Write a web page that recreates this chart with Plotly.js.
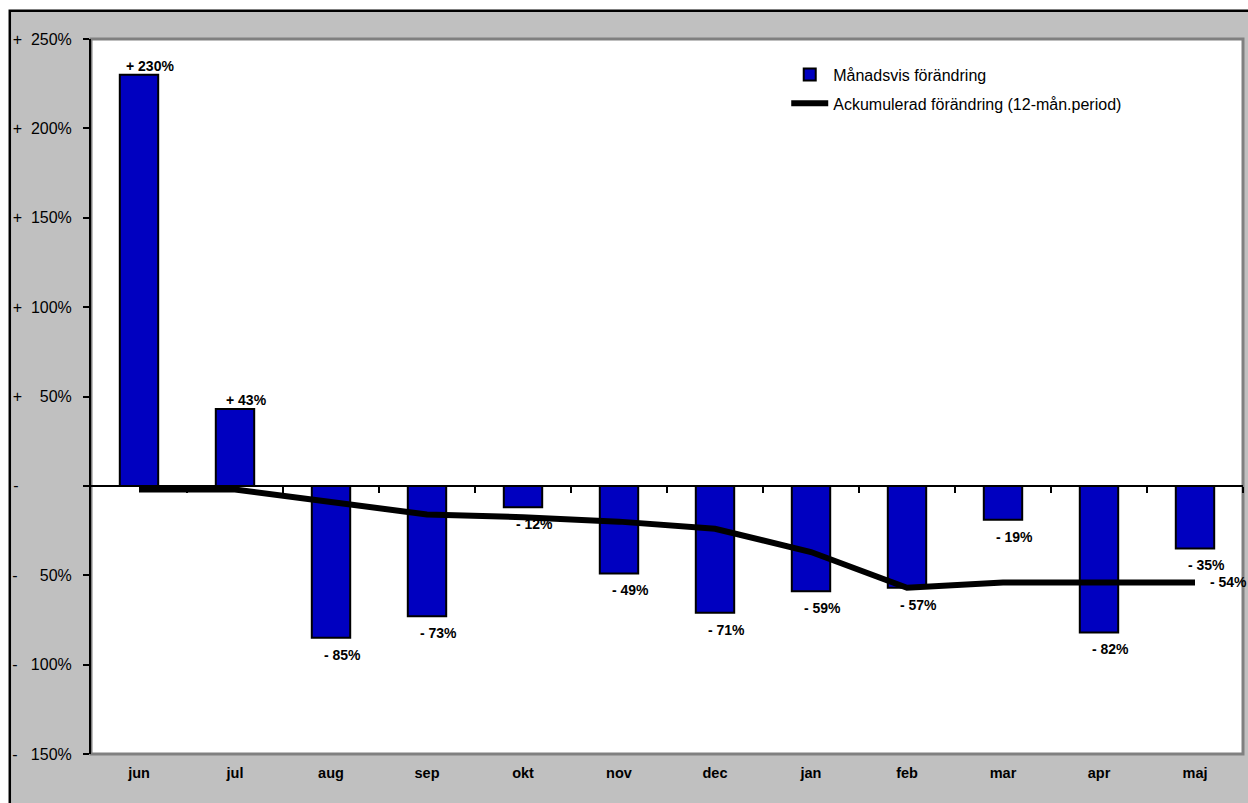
<!DOCTYPE html>
<html>
<head>
<meta charset="utf-8">
<script src="https://cdn.plot.ly/plotly-3.0.1.min.js"></script>
<style>
html,body{margin:0;padding:0;background:#fff;}
#chart{width:1248px;height:803px;}
</style>
</head>
<body>
<div id="chart"></div>
<script>
const months = ['jun','jul','aug','sep','okt','nov','dec','jan','feb','mar','apr','maj'];
const monthlyChange = [230, 43, -85, -73, -12, -49, -71, -59, -57, -19, -82, -35];
const cumulativeChange = [-2, -2, -9, -16, -17.5, -20, -24, -37, -57, -54, -54, -54];
const seriesNames = ['Månadsvis förändring', 'Ackumulerad förändring (12-mån.period)'];
const yTickVals = [250, 200, 150, 100, 50, 0, -50, -100, -150];
const NB = '\u00A0';
const yTickText = [
  '+' + NB.repeat(2) + '250%',
  '+' + NB.repeat(2) + '200%',
  '+' + NB.repeat(2) + '150%',
  '+' + NB.repeat(2) + '100%',
  '+' + NB.repeat(4) + '50%',
  '-' + NB.repeat(12),
  '-' + NB.repeat(5) + '50%',
  '-' + NB.repeat(3) + '100%',
  '-' + NB.repeat(3) + '150%'
];

function fmt(v) {
  const a = Math.round(Math.abs(v));
  return (v > 0 ? '+ ' : '- ') + a + '%';
}

const FONT = 'Liberation Sans, Arial, sans-serif';

const barTrace = {
  type: 'bar',
  name: seriesNames[0],
  x: months,
  y: monthlyChange,
  width: 0.4,
  marker: {color: '#0000C0', line: {color: '#000000', width: 2}},
  hoverinfo: 'skip',
  legendgroup: 'a'
};
const lineTrace = {
  type: 'scatter',
  mode: 'lines',
  name: seriesNames[1],
  x: months,
  y: cumulativeChange,
  line: {color: '#000000', width: 6},
  hoverinfo: 'skip',
  legendgroup: 'b'
};
const zeroAxisTrace = {
  type: 'scatter', x: [], y: [], xaxis: 'x2', yaxis: 'y',
  showlegend: false, hoverinfo: 'skip'
};

const annotations = [];
monthlyChange.forEach((v, i) => {
  annotations.push({
    x: months[i], y: v, xref: 'x', yref: 'y',
    text: fmt(v), showarrow: false,
    xanchor: 'center', yanchor: 'middle',
    xshift: 11, yshift: v > 0 ? 9 : -17,
    font: {family: FONT, size: 14, color: '#000', weight: 'bold'}
  });
});
const last = cumulativeChange.length - 1;
annotations.push({
  x: months[last], y: cumulativeChange[last], xref: 'x', yref: 'y',
  text: fmt(cumulativeChange[last]), showarrow: false,
  xanchor: 'left', yanchor: 'middle', xshift: 13,
  font: {family: FONT, size: 14, color: '#000', weight: 'bold'}
});

const layout = {
  width: 1248, height: 803,
  margin: {l: 91, r: 5, t: 39, b: 49},
  paper_bgcolor: '#ffffff',
  plot_bgcolor: 'rgba(0,0,0,0)',
  font: {family: FONT, color: '#000'},
  showlegend: true,
  legend: {
    x: 0.6035, y: 0.974, xanchor: 'left', yanchor: 'top',
    bgcolor: 'rgba(0,0,0,0)', borderwidth: 0,
    font: {family: FONT, size: 16, color: '#000'},
    traceorder: 'grouped', tracegroupgap: 5, itemwidth: 37
  },
  xaxis: {
    type: 'category', categoryarray: months, range: [-0.5, 11.5],
    showline: false, ticks: '', showgrid: false, zeroline: false,
    ticklabelstandoff: 8,
    tickfont: {family: FONT, size: 14.5, color: '#000', weight: 'bold'},
    fixedrange: true
  },
  xaxis2: {
    overlaying: 'x', anchor: 'free', position: 0.375, side: 'bottom',
    range: [-0.5, 11.5], tickvals: [0.5,1.5,2.5,3.5,4.5,5.5,6.5,7.5,8.5,9.5,10.5,11.5],
    ticks: 'outside', ticklen: 6, tickwidth: 2, tickcolor: '#000',
    showline: true, linecolor: '#000', linewidth: 2,
    showticklabels: false, showgrid: false, zeroline: false, fixedrange: true
  },
  yaxis: {
    range: [-150, 250], tickvals: yTickVals, ticktext: yTickText,
    ticks: 'outside', ticklen: 6, tickwidth: 2, tickcolor: '#000',
    showline: true, linecolor: '#000', linewidth: 2,
    showgrid: false, zeroline: false, ticklabelstandoff: 8,
    tickfont: {family: FONT, size: 16, color: '#000'},
    fixedrange: true
  },
  shapes: [
    {type: 'rect', xref: 'paper', yref: 'paper', layer: 'below',
     x0: -0.0705, x1: 1.01, y0: -0.08, y1: 1.0395,
     fillcolor: '#C0C0C0', line: {color: '#000', width: 2.5}},
    {type: 'rect', xref: 'paper', yref: 'paper', layer: 'below',
     x0: 0, x1: 1, y0: 0, y1: 1,
     fillcolor: '#ffffff', line: {color: '#808080', width: 3}}
  ],
  annotations: annotations,
  bargap: 0.6
};

Plotly.newPlot('chart', [barTrace, lineTrace, zeroAxisTrace], layout, {staticPlot: true, displayModeBar: false});
</script>
</body>
</html>
